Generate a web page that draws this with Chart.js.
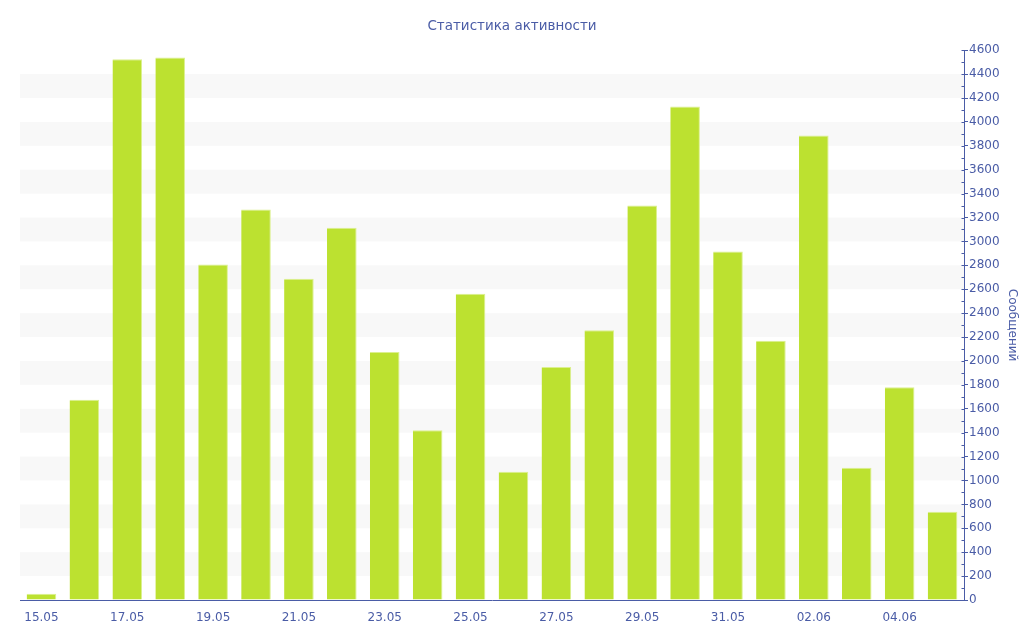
<!DOCTYPE html>
<html>
<head>
<meta charset="utf-8">
<script src="https://cdn.jsdelivr.net/npm/chart.js@4"></script>
<style>
  html, body { margin: 0; padding: 0; background: #fff; }
  #wrap { width: 1024px; height: 640px; }
</style>
</head>
<body>
<div id="wrap"><canvas id="grafico"></canvas></div>
<script>
// Dados do gráfico
const dias = ['15.05', '16.05', '17.05', '18.05', '19.05', '20.05', '21.05', '22.05', '23.05', '24.05', '25.05',
  '26.05', '27.05', '28.05', '29.05', '30.05', '31.05', '01.06', '02.06', '03.06', '04.06', '05.06'];
const mensagens = [52, 1675, 4525, 4538, 2808, 3268, 2688, 3115, 2074, 1420, 2562,
  1073, 1949, 2256, 3300, 4130, 2916, 2170, 3886, 1106, 1781, 739];
const eixoMin = 0;
const eixoMax = 4600;
const passoEixo = 200;

const corTexto = '#4a5ca6';
const fonte = 'DejaVu Sans';

// Faixas alternadas e marcas menores no eixo Y
const faixasPlugin = {
  id: 'faixas',
  beforeDatasetsDraw(chart) {
    const { ctx, chartArea, scales } = chart;
    const y = scales.y;
    ctx.save();
    ctx.fillStyle = '#f8f8f8';
    for (let v = eixoMin + passoEixo; v < eixoMax; v += passoEixo * 2) {
      const y1 = y.getPixelForValue(v + passoEixo);
      const y0 = y.getPixelForValue(v);
      ctx.fillRect(chartArea.left, y1, chartArea.right - chartArea.left, y0 - y1);
    }
    ctx.restore();
  },
  afterDraw(chart) {
    const { ctx, scales } = chart;
    const y = scales.y;
    const x0 = Math.round(y.left) + 0.5;
    ctx.save();
    ctx.strokeStyle = corTexto;
    ctx.lineWidth = 1;
    ctx.beginPath();
    for (let v = eixoMin; v <= eixoMax; v += passoEixo / 2) {
      const py = Math.round(y.getPixelForValue(v)) + 0.5;
      ctx.moveTo(x0 - 3, py);
      ctx.lineTo(x0, py);
    }
    ctx.stroke();
    ctx.restore();
  }
};

new Chart(document.getElementById('grafico').getContext('2d'), {
  type: 'bar',
  data: {
    labels: dias,
    datasets: [{
      label: 'Сообщений',
      data: mensagens,
      yAxisID: 'y',
      xAxisID: 'x',
      backgroundColor: '#bce130',
      borderColor: '#dcf08f',
      borderWidth: { top: 1, right: 1, left: 0, bottom: 0 },
      borderSkipped: false,
      categoryPercentage: 1,
      barPercentage: 0.69
    }]
  },
  options: {
    responsive: true,
    maintainAspectRatio: false,
    animation: false,
    layout: { padding: 0 },
    plugins: {
      legend: { display: false },
      tooltip: { enabled: false },
      title: {
        display: true,
        text: 'Статистика активности',
        color: corTexto,
        font: { family: fonte, size: 13.5, weight: 'normal' },
        padding: { top: 18, bottom: 16 }
      }
    },
    scales: {
      x: {
        grid: { display: false },
        border: { display: true, color: corTexto, width: 1 },
        ticks: {
          autoSkip: false,
          maxRotation: 0,
          padding: 3,
          color: corTexto,
          font: { family: fonte, size: 12 },
          callback: function(valor, indice) {
            return indice % 2 === 0 ? this.getLabelForValue(valor) : '';
          }
        },
        afterFit(escala) { escala.height = 40; }
      },
      y: {
        position: 'right',
        min: eixoMin,
        max: eixoMax,
        grid: { drawOnChartArea: false, drawTicks: true, tickLength: 4, color: corTexto },
        border: { display: true, color: corTexto, width: 1 },
        ticks: {
          stepSize: passoEixo,
          padding: 1,
          color: corTexto,
          font: { family: fonte, size: 12 },
          callback: (valor) => String(valor)
        },
        title: {
          display: true,
          text: 'Сообщений',
          color: corTexto,
          font: { family: fonte, size: 12 },
          padding: 5
        },
        afterFit(escala) { escala.width = 60; }
      },
      // margem esquerda vazia, para o título ficar centrado na página
      margem: {
        type: 'linear',
        axis: 'y',
        position: 'left',
        grid: { display: false },
        border: { display: false },
        ticks: { display: false },
        afterFit(escala) { escala.width = 20; }
      }
    }
  },
  plugins: [faixasPlugin]
});
</script>
</body>
</html>
